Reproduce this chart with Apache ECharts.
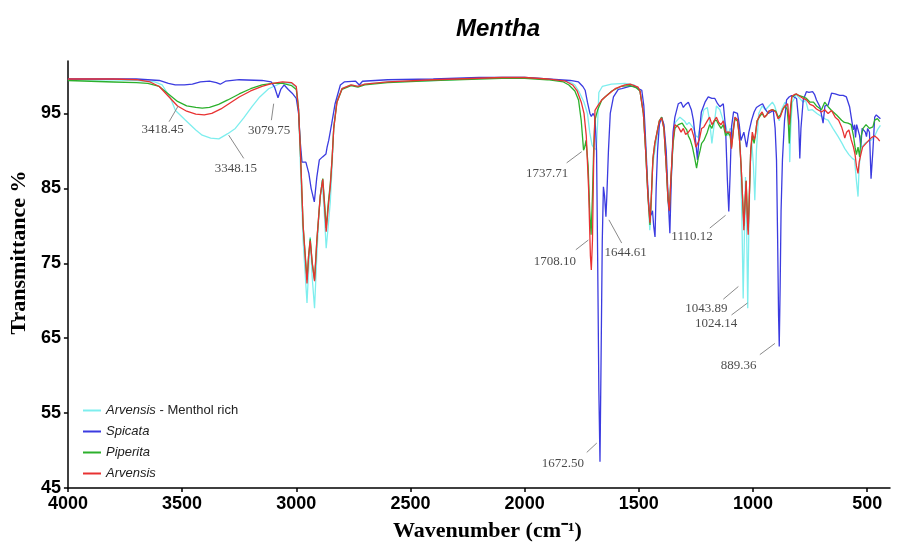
<!DOCTYPE html>
<html><head><meta charset="utf-8">
<script src="https://cdn.jsdelivr.net/npm/echarts@6/dist/echarts.min.js"></script>
<style>html,body{margin:0;padding:0;background:#fff}#c{width:907px;height:547px}</style>
</head><body><div id="c"></div>
<script>
const xTicks = [4000,3500,3000,2500,2000,1500,1000,500];
const yTicks = [45,55,65,75,85,95];
const seriesNames = ['Arvensis - Menthol rich','Spicata','Piperita','Arvensis'];

const arvensisMentholRich = [[4000,99.5],[3900,99.5],[3800,99.5],[3700,99.4],[3620,99.2],[3587,98.8],[3550,97.0],[3529,95.4],[3485,94.1],[3440,92.8],[3412,92.1],[3375,91.7],[3339,91.6],[3300,92.3],[3267,93.0],[3230,94.4],[3194,95.9],[3160,97.2],[3121,98.3],[3063,99.1],[3020,99.0],[3000,98.5],[2990,96.0],[2984,90.0],[2970,78.0],[2953,69.7],[2946,74],[2939,78.5],[2930,73],[2920,69.0],[2910,76],[2900,82],[2887,86.1],[2878,82],[2869,77.0],[2860,80],[2851,83.2],[2843,88],[2836,93.2],[2822,96.8],[2800,98.3],[2760,98.8],[2730,98.6],[2720,98.7],[2700,98.9],[2600,99.2],[2400,99.4],[2200,99.7],[2100,99.8],[2000,99.8],[1900,99.6],[1820,99.3],[1790,99.0],[1780,98.8],[1760,97.8],[1740,96.5],[1725,95],[1715,92.5],[1705,90.8],[1695,90.3],[1686,90.2],[1680,94],[1675,97.8],[1660,98.6],[1620,98.9],[1560,99.0],[1520,98.8],[1495,98.0],[1480,95],[1470,90],[1460,84],[1452,79.4],[1446,82],[1440,88],[1430,90],[1420,92],[1410,94],[1400,94.3],[1390,93],[1380,88],[1372,83],[1366,81.8],[1360,85],[1350,91],[1340,93.8],[1320,94.5],[1300,94],[1290,93.5],[1280,93.8],[1260,93.0],[1250,92],[1240,91.8],[1230,93.5],[1215,95.5],[1200,95.8],[1190,94],[1180,91],[1170,93.5],[1160,96],[1145,95.5],[1130,94],[1120,93.5],[1110,92],[1100,93],[1090,92.5],[1080,94.5],[1065,94],[1055,90],[1048,80],[1043,70.3],[1038,78],[1033,86.5],[1028,80],[1023,69.0],[1018,80],[1012,88],[1005,91],[998,88],[992,83.4],[985,90],[975,95],[960,96],[945,95.5],[930,96],[915,96.5],[905,96],[895,95],[885,94],[875,95.5],[860,96.5],[848,96],[842,93],[839,88.5],[835,93],[828,96.5],[810,97.5],[795,97],[780,96.5],[770,96.8],[758,95.4],[740,95.5],[720,95],[700,94.6],[680,94.2],[671,94.1],[650,93],[627,91.9],[610,91],[598,90.3],[580,89.5],[565,89],[555,88.8],[547,86],[540,83.9],[535,88],[525,90.5],[510,91],[500,91.2],[480,91.5],[467,92],[455,92.8],[442,93.4]];

const spicata = [[4000,99.6],[3800,99.6],[3700,99.6],[3600,99.4],[3560,99.0],[3530,98.8],[3490,98.8],[3455,98.9],[3420,99.2],[3380,99.3],[3350,99.1],[3333,98.9],[3310,99.3],[3250,99.5],[3150,99.4],[3110,99.2],[3095,98.5],[3080,97.1],[3068,98.2],[3053,98.8],[3035,98.2],[3018,97.7],[3000,97.0],[2990,95],[2982,91],[2975,88.5],[2968,88.3],[2958,88.5],[2945,87],[2935,85],[2921,83.2],[2910,86.5],[2899,88.8],[2885,89.2],[2870,89.6],[2865,90.5],[2858,91.4],[2845,93.6],[2830,96.3],[2807,98.8],[2790,99.2],[2740,99.3],[2724,98.8],[2710,99.3],[2600,99.5],[2400,99.6],[2200,99.8],[2100,99.8],[2000,99.8],[1900,99.6],[1800,99.4],[1764,99.2],[1745,98.6],[1735,98.1],[1725,96.5],[1714,95.0],[1708,94.6],[1700,95.0],[1692,94.5],[1685,90],[1680,75],[1675,58],[1670,48.5],[1666,60],[1660,78],[1655,85.2],[1650,84],[1644,81.2],[1640,84],[1633,90],[1625,95],[1611,97.2],[1590,98.2],[1575,98.3],[1540,98.6],[1517,98.6],[1500,98.3],[1487,98.1],[1478,96],[1473,93.2],[1462,86],[1455,82.1],[1447,81.4],[1440,82],[1435,80],[1429,78.5],[1424,85],[1418,90],[1410,93.5],[1400,94.5],[1390,93.5],[1380,90],[1372,84],[1364,79.0],[1358,86],[1350,92.5],[1342,94.5],[1327,96.3],[1315,96.5],[1305,95.8],[1295,96.2],[1283,96.5],[1270,95.5],[1261,94.1],[1250,91],[1243,88.8],[1235,92.5],[1226,95.2],[1210,96.5],[1196,97.2],[1189,97.2],[1180,97.0],[1167,97.0],[1155,96.3],[1145,95.9],[1130,96.3],[1120,93],[1112,86],[1106,81.9],[1100,87],[1094,93.2],[1085,95.2],[1079,95.4],[1068,95.0],[1060,93.5],[1053,91.4],[1045,91.5],[1040,92.5],[1028,90.5],[1018,92.5],[1006,94.1],[995,95.2],[985,95.8],[970,96.1],[958,96.3],[945,95.5],[933,95.0],[922,95.2],[911,95.4],[903,93],[897,88.8],[892,78],[888,68],[885,63.9],[881,72],[877,82],[871,88.8],[862,94],[853,96.8],[842,97.2],[831,97.4],[820,97.2],[809,97.0],[800,94],[795,89.0],[790,93],[780,96.8],[766,97.9],[755,97.8],[739,97.9],[730,97.5],[722,96.8],[707,95.9],[693,93.7],[685,96],[671,96.1],[656,97.7],[640,97.6],[620,97.4],[605,97.4],[591,97.2],[577,95.9],[561,92.8],[555,93.5],[551,91.8],[546,93.5],[540,93.3],[533,92],[528,90.5],[522,93],[515,93],[508,92.5],[503,91.9],[498,93],[490,92.5],[483,86.3],[475,90],[467,94.5],[460,94.8],[452,94.8],[442,94.3]];

const piperita = [[4000,99.4],[3900,99.3],[3800,99.2],[3700,99.1],[3650,99.0],[3600,98.6],[3560,97.6],[3520,96.6],[3480,96.0],[3440,95.8],[3412,95.7],[3380,95.8],[3340,96.2],[3300,96.8],[3250,97.6],[3200,98.3],[3150,98.8],[3105,99.0],[3060,99.0],[3020,98.7],[3000,98.2],[2990,95.5],[2982,90],[2970,80],[2953,72.8],[2946,76],[2939,78.3],[2930,75],[2920,72.8],[2910,78],[2895,84],[2884,86.3],[2876,83],[2869,79.7],[2860,83],[2851,85.6],[2843,89],[2836,93],[2822,96.5],[2800,98.2],[2760,98.7],[2730,98.5],[2700,98.8],[2600,99.1],[2400,99.4],[2200,99.6],[2100,99.7],[2000,99.7],[1900,99.5],[1830,99.2],[1806,98.8],[1780,98],[1764,96.8],[1752,94],[1742,90.1],[1737,90.5],[1731,91.4],[1722,88],[1715,82],[1709,78.8],[1703,84],[1697,91],[1692,94.1],[1680,95.5],[1662,96.8],[1648,97.2],[1618,98.0],[1580,98.6],[1538,98.7],[1510,98.4],[1495,98.0],[1480,95],[1470,90],[1460,84],[1451,80.1],[1445,84],[1438,89],[1430,91],[1420,92.5],[1410,94],[1400,94.5],[1390,93],[1380,88],[1372,83.5],[1366,82.3],[1360,86],[1350,91],[1342,93],[1327,93.5],[1310,93.7],[1300,93.2],[1290,92.8],[1283,92.0],[1275,91.5],[1265,90.5],[1255,89],[1247,87.7],[1240,89],[1232,90],[1225,91],[1215,91.4],[1200,92.5],[1190,93.5],[1180,93],[1170,94],[1160,94.1],[1150,93.5],[1140,93],[1130,93.5],[1120,92],[1110,92.5],[1100,92],[1094,90.5],[1085,93],[1079,94.3],[1068,94],[1060,92],[1052,88],[1046,84],[1040,80.0],[1035,83],[1030,86],[1025,82],[1021,79.4],[1016,84],[1010,90],[1003,92],[995,91],[990,92],[982,94],[970,94.6],[960,95],[950,94.5],[940,94.8],[930,95.3],[915,95.5],[900,95.3],[890,94.5],[880,94.8],[870,95.5],[860,96],[850,95.5],[845,93.5],[841,91],[837,94],[830,97.2],[820,97.4],[810,97.6],[800,97.4],[790,97.3],[780,97.2],[766,97.0],[750,96.5],[735,96.5],[722,96],[700,95.5],[686,96.5],[671,95.9],[656,95.4],[634,94.8],[612,94.1],[600,93.8],[584,93.7],[570,93.5],[560,92],[553,90.5],[547,89.5],[540,90.5],[533,89.2],[526,92],[518,93],[505,93.5],[490,93],[475,93.2],[467,94.1],[455,94.3],[445,93.9]];

const arvensis = [[4000,99.6],[3900,99.6],[3800,99.6],[3700,99.5],[3640,99.2],[3600,98.6],[3560,97.3],[3520,96.0],[3480,95.3],[3440,94.9],[3403,94.8],[3370,95.0],[3330,95.6],[3290,96.4],[3250,97.2],[3200,98.0],[3150,98.6],[3105,99.0],[3060,99.2],[3020,99.1],[3000,98.6],[2990,95.5],[2982,90],[2970,80],[2953,72.3],[2946,76],[2939,78.0],[2930,75],[2920,72.6],[2910,78],[2895,84],[2884,86.2],[2876,82.5],[2869,79.2],[2860,82.5],[2851,85.3],[2843,89],[2836,93],[2822,96.5],[2800,98.3],[2760,98.8],[2730,98.6],[2700,98.9],[2600,99.2],[2400,99.5],[2200,99.7],[2100,99.8],[2000,99.8],[1900,99.6],[1820,99.3],[1790,98.8],[1770,98],[1752,96.5],[1740,95],[1730,92],[1720,85],[1712,76],[1708,74.1],[1703,78],[1698,88],[1692,95.4],[1680,96.0],[1662,96.8],[1648,97.2],[1604,98.3],[1560,98.8],[1538,98.9],[1503,98.5],[1495,98.0],[1480,95],[1470,90],[1460,84],[1451,80.4],[1445,84],[1438,89],[1430,91],[1420,92.5],[1410,94],[1400,94.4],[1390,93],[1380,88],[1372,83.5],[1366,82.0],[1360,86],[1350,91.5],[1342,93.5],[1327,93.2],[1315,92.5],[1305,93.0],[1295,92.2],[1283,92.5],[1270,93],[1260,92],[1250,90.5],[1243,90.5],[1235,91.5],[1225,93],[1215,93.2],[1200,94],[1190,94.5],[1180,93.5],[1170,94],[1160,94.5],[1150,93.8],[1140,93.5],[1130,94],[1120,92.5],[1110,92.5],[1100,92.5],[1094,90.3],[1085,93],[1079,94.5],[1068,94.2],[1060,92],[1052,88],[1046,84],[1040,79.4],[1035,83],[1030,86],[1025,81],[1021,78.8],[1016,84],[1010,90],[1003,92.5],[995,91.5],[990,92],[982,94],[970,94.8],[960,95.2],[950,94.5],[940,94.8],[930,95.3],[915,95.5],[900,95.2],[890,94.3],[880,94.6],[870,95.5],[860,96],[848,96.3],[841,93.5],[835,96],[830,97.3],[820,97.5],[810,97.6],[800,97.4],[790,97.2],[780,97],[766,96.8],[750,96.2],[735,96],[722,95.6],[700,95.2],[686,95.5],[671,95.0],[656,95.4],[640,94.5],[625,94.1],[612,93.2],[605,92.5],[598,91.7],[590,92.5],[580,92.8],[570,91.5],[560,90.5],[553,89.5],[547,88],[540,87.0],[535,88.5],[528,89.5],[520,90.5],[505,91],[490,91.5],[480,91.8],[467,92.0],[455,91.7],[445,91.3]];

const peakLabels = ['3418.45','3348.15','3079.75','1737.71','1708.10','1644.61','1672.50','1110.12','1043.89','1024.14','889.36'];
const peakLineFrom = [[3517,96.0],[3296,92.1],[3099,96.3],[1750,89.9],[1721,78.1],[1631,80.8],[1684,51.0],[1120,81.4],[1064,71.9],[1024,69.7],[904,64.3]];
const peakLineTo = [[3557,93.9],[3230,89.0],[3109,94.1],[1816,88.4],[1776,76.8],[1575,77.7],[1728,49.75],[1189,79.7],[1130,70.2],[1094,68.1],[970,62.8]];
const peakLabelAt = [[3585,92.9],[3264,87.7],[3119,92.7],[1901,87.0],[1868,75.2],[1558,76.4],[1832,48.3],[1267,78.5],[1204,69.0],[1161,67.0],[1063,61.4]];

const seriesData = [arvensisMentholRich, spicata, piperita, arvensis];
const colors = ['#7eeeee','#3b3be0','#2cb02c','#e83232'];

const chart = echarts.init(document.getElementById('c'), null, {renderer:'canvas'});
const sansF = "'Liberation Sans', Arial, sans-serif";
const serifF = "'Liberation Serif', 'Times New Roman', serif";

const lineSeries = seriesNames.map((n, i) => ({
  name: n, type: 'line', data: seriesData[i], showSymbol: false, symbol: 'none',
  lineStyle: {color: colors[i], width: 1.3}, itemStyle: {color: colors[i]},
  z: 2 + i, animation: false
}));

chart.setOption({
  animation: false,
  backgroundColor: '#fff',
  title: {
    text: 'Mentha', left: 493, top: 12, textAlign: 'center',
    textStyle: {fontFamily: "'Liberation Sans Narrow', 'Liberation Sans', Arial, sans-serif", fontStyle: 'italic', fontWeight: 'bold', fontSize: 24, color: '#000'}
  },
  legend: {
    orient: 'vertical', left: 78, top: 399, itemWidth: 18, itemHeight: 2, itemGap: 8,
    icon: 'rect',
    data: seriesNames,
    formatter: n => n === 'Arvensis - Menthol rich' ? '{i|Arvensis} - Menthol rich' : '{i|' + n + '}',
    textStyle: {fontFamily: sansF, fontSize: 13, color: '#222', rich: {i: {fontStyle: 'italic', fontFamily: sansF, fontSize: 13, color: '#222'}}}
  },
  grid: {left: 66, right: 17, top: 61, bottom: 58, containLabel: false},
  xAxis: {
    type: 'value', min: 400, max: 4000, inverse: true,
    name: 'Wavenumber (cm⁻¹)', nameLocation: 'middle', nameGap: 32,
    nameTextStyle: {fontFamily: serifF, fontWeight: 'bold', fontSize: 22, color: '#000', padding: [0,0,0,17]},
    axisLine: {lineStyle: {color: '#000', width: 1.5}},
    axisTick: {show: true, length: 4, customValues: xTicks, lineStyle: {color: '#000', width: 1.5}},
    axisLabel: {customValues: xTicks, formatter: v => String(v), margin: 7, fontFamily: sansF, fontWeight: 'bold', fontSize: 18, color: '#000'},
    splitLine: {show: false}
  },
  yAxis: {
    type: 'value', min: 45, max: 102,
    name: 'Transmittance %', nameLocation: 'middle', nameGap: 25, nameRotate: 90,
    nameTextStyle: {fontFamily: serifF, fontWeight: 'bold', fontSize: 22, color: '#000', padding: [0,0,0,44]},
    axisLine: {show: true, lineStyle: {color: '#000', width: 1.5}},
    axisTick: {show: true, length: 4, customValues: yTicks, lineStyle: {color: '#000', width: 1.5}},
    axisLabel: {customValues: yTicks, formatter: v => String(v), margin: 7, fontFamily: sansF, fontWeight: 'bold', fontSize: 18, color: '#000'},
    splitLine: {show: false}
  },
  series: lineSeries.concat([
    {
      type: 'lines', coordinateSystem: 'cartesian2d', silent: true, z: 10,
      lineStyle: {color: '#8a8a8a', width: 1, opacity: 1},
      data: peakLineFrom.map((p, i) => ({coords: [p, peakLineTo[i]]}))
    },
    {
      type: 'scatter', symbol: 'circle', symbolSize: 2, silent: true, z: 11,
      itemStyle: {color: 'rgba(255,255,255,0)'},
      data: peakLabelAt.map((p, i) => [p[0], p[1], peakLabels[i]]),
      label: {show: true, position: 'inside', formatter: d => d.value[2], fontFamily: serifF, fontSize: 13, color: '#1a1a1a'}
    }
  ])
});
</script></body></html>
